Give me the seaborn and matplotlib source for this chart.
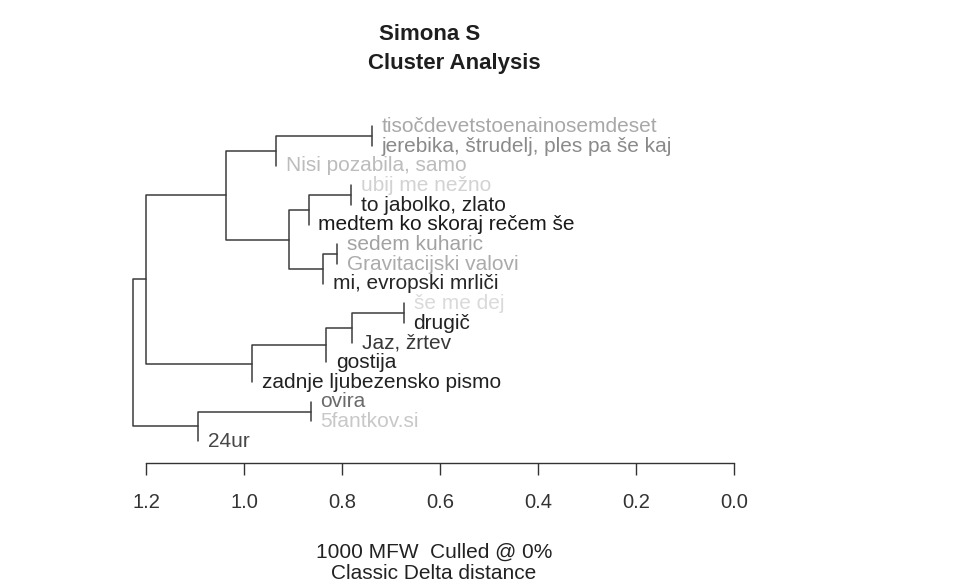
import matplotlib
matplotlib.use("Agg")
import matplotlib.pyplot as plt
import numpy as np
import pandas as pd
import seaborn as sns

# ---------------------------------------------------------------------------
# Data: leaves (top to bottom), their label colours, and hclust-style merges
# ---------------------------------------------------------------------------

LEAVES = [
    "tisočdevetstoenainosemdeset",
    "jerebika, štrudelj, ples pa še kaj",
    "Nisi pozabila, samo",
    "ubij me nežno",
    "to jabolko, zlato",
    "medtem ko skoraj rečem še",
    "sedem kuharic",
    "Gravitacijski valovi",
    "mi, evropski mrliči",
    "še me dej",
    "drugič",
    "Jaz, žrtev",
    "gostija",
    "zadnje ljubezensko pismo",
    "ovira",
    "5fantkov.si",
    "24ur",
]
LEAF_COLORS = [
    "#a8a8a8", "#8a8a8a", "#bcbcbc", "#d2d2d2", "#222222", "#1a1a1a",
    "#a2a2a2", "#ababab", "#262626", "#dadada", "#222222", "#383838",
    "#222222", "#222222", "#6a6a6a", "#c8c8c8", "#474747",
]

# negative = leaf (1-based), positive = earlier merge row (1-based)
MERGE_A = [-1, 1, -4, 3, -7, 5, 4, 2, -10, 9, 10, 11, 8, -15, 14, 13]
MERGE_B = [-2, -3, -5, -6, -8, -9, 6, 7, -11, -12, -13, -14, 12, -16, -17, 15]
HEIGHTS = [0.740, 0.935, 0.782, 0.868, 0.810, 0.839, 0.909, 1.037,
           0.674, 0.779, 0.833, 0.984, 1.199, 0.864, 1.093, 1.226]

TICKS = [1.2, 1.0, 0.8, 0.6, 0.4, 0.2, 0.0]

# ---------------------------------------------------------------------------
# Layout of the dendrogram
# ---------------------------------------------------------------------------

node_y = {}
leaf_x = {}
rows = []


def _pos(ref):
    if ref < 0:
        return None, float(-ref - 1)
    return HEIGHTS[ref - 1], node_y[ref]


for k, (a, b, h) in enumerate(zip(MERGE_A, MERGE_B, HEIGHTS), start=1):
    xa, ya = _pos(a)
    xb, yb = _pos(b)
    if a < 0:
        leaf_x[-a - 1] = h
        xa = h
    if b < 0:
        leaf_x[-b - 1] = h
        xb = h
    node_y[k] = (ya + yb) / 2
    for x, y in [(xa, ya), (h, ya), (h, yb), (xb, yb)]:
        rows.append({"seg": k, "x": x, "y": y})

seg_df = pd.DataFrame(rows)

# ---------------------------------------------------------------------------
# Plot
# ---------------------------------------------------------------------------

sns.set_theme(style="white")
plt.rcParams["font.family"] = ["Liberation Sans", "DejaVu Sans"]

fig = plt.figure(figsize=(9.56, 5.85), dpi=100)
fig.patch.set_facecolor("white")
ax = fig.add_axes([0, 122 / 585, 1, 463 / 585])
ax.set_facecolor("white")

sns.lineplot(
    data=seg_df, x="x", y="y", units="seg", estimator=None, sort=False,
    color="#3c3c3c", linewidth=1.1, ax=ax,
)

for i, (label, color) in enumerate(zip(LEAVES, LEAF_COLORS)):
    ax.annotate(
        label, xy=(leaf_x[i], i), xytext=(7, 0), textcoords="offset points",
        ha="left", va="center", fontsize=15, color=color,
    )

ax.set_xlim(1.4976, -0.4519)
ax.set_ylim(17.115, -6.434)

for side in ["top", "left", "right"]:
    ax.spines[side].set_visible(False)
ax.spines["bottom"].set_bounds(0, 1.2)
ax.spines["bottom"].set_color("#333333")
ax.spines["bottom"].set_linewidth(1.0)

ax.set_xticks(TICKS)
ax.set_xticklabels([f"{t:.1f}" for t in TICKS])
ax.set_yticks([])
ax.tick_params(axis="x", direction="out", length=8.6, width=1.0, pad=13,
               labelsize=14.5, colors="#333333", bottom=True)

ax.set_xlabel("1000 MFW  Culled @ 0%\nClassic Delta distance", fontsize=15,
              color="#222222", linespacing=1.15, va="top")
ax.xaxis.set_label_coords(434 / 956, -0.172)
ax.set_ylabel("")

fig.text(430 / 956, 1 - 35 / 585, "Simona S", ha="center", va="center",
         fontsize=16, fontweight="bold", color="#1e1e1e")
fig.text(454 / 956, 1 - 64 / 585, "Cluster Analysis", ha="center", va="center",
         fontsize=16, fontweight="bold", color="#1e1e1e")

fig.savefig("out.png", dpi=100, facecolor="white")
